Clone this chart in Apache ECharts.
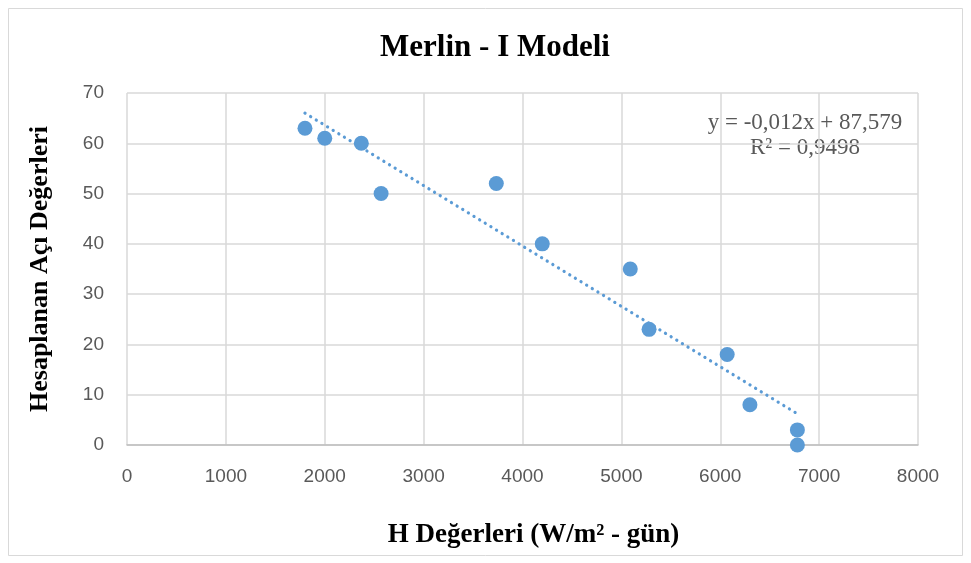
<!DOCTYPE html>
<html><head><meta charset="utf-8">
<script src="https://cdn.jsdelivr.net/npm/echarts@6/dist/echarts.min.js"></script>
<style>html,body{margin:0;padding:0;background:#fff}#c{width:971px;height:563px}</style>
</head><body><div id="c"></div>
<script>
const titleText = 'Merlin - I Modeli';
const xName = 'H Değerleri (W/m² - gün)';
const yName = 'Hesaplanan Açı Değerleri';
const hValues = [1800, 2000, 2370, 2570, 3735, 4200, 5090, 5280, 6070, 6300, 6780, 6780];
const angleValues = [63, 61, 60, 50, 52, 40, 35, 23, 18, 8, 3, 0];
const trendX = [1800, 6780];
const trendY = [66.0, 6.2];
const equationLines = ['y = -0,012x + 87,579', 'R² = 0,9498'];

const chart = echarts.init(document.getElementById('c'));
chart.setOption({
  animation: false,
  backgroundColor: '#fff',
  title: { text: titleText, left: 490, top: 27, textAlign: 'center',
    textStyle: { fontFamily: 'Liberation Serif', fontWeight: 'bold', fontSize: 31, color: '#000' } },
  grid: { left: 127, right: 53, top: 93, bottom: 118 },
  xAxis: { type: 'value', min: 0, max: 8000, interval: 1000,
    name: xName, nameLocation: 'middle', nameGap: 77,
    nameTextStyle: { fontFamily: 'Liberation Serif', fontWeight: 'bold', fontSize: 27, color: '#000', padding: [0, 0, 0, 22] },
    axisLine: { show: true, lineStyle: { color: '#bfbfbf', width: 1.5 } },
    axisTick: { show: false },
    axisLabel: { margin: 22, fontFamily: 'Liberation Sans', fontSize: 19, color: '#595959', formatter: v => String(v) },
    splitLine: { show: true, lineStyle: { color: '#d9d9d9', width: 1.5 } } },
  yAxis: { type: 'value', min: 0, max: 70, interval: 10,
    name: yName, nameLocation: 'middle', nameGap: 74,
    nameTextStyle: { fontFamily: 'Liberation Serif', fontWeight: 'bold', fontSize: 26, color: '#000' },
    axisLine: { show: false }, axisTick: { show: false },
    axisLabel: { margin: 23, fontFamily: 'Liberation Sans', fontSize: 19, color: '#595959', formatter: v => String(v) },
    splitLine: { show: true, lineStyle: { color: '#d9d9d9', width: 1.5 } } },
  graphic: [
    { type: 'rect', shape: { x: 8.5, y: 8.5, width: 954, height: 547 }, style: { fill: 'none', stroke: '#d9d9d9', lineWidth: 1 }, z: -1 },
    { type: 'text', x: 805, y: 123, style: { text: equationLines[0], align: 'center', verticalAlign: 'middle',
      font: '23px "Liberation Serif"', fill: '#595959' } },
    { type: 'text', x: 805, y: 148, style: { text: equationLines[1], align: 'center', verticalAlign: 'middle',
      font: '23px "Liberation Serif"', fill: '#595959' } }
  ],
  series: [
    { type: 'line', data: trendX.map((x, i) => [x, trendY[i]]), symbol: 'none',
      lineStyle: { color: '#5b9bd5', width: 3.2, type: [0.1, 6.5], cap: 'round' }, z: 1 },
    { type: 'scatter', data: hValues.map((x, i) => [x, angleValues[i]]), symbolSize: 15,
      itemStyle: { color: '#5b9bd5', opacity: 1 }, z: 2 }
  ]
});
</script></body></html>
